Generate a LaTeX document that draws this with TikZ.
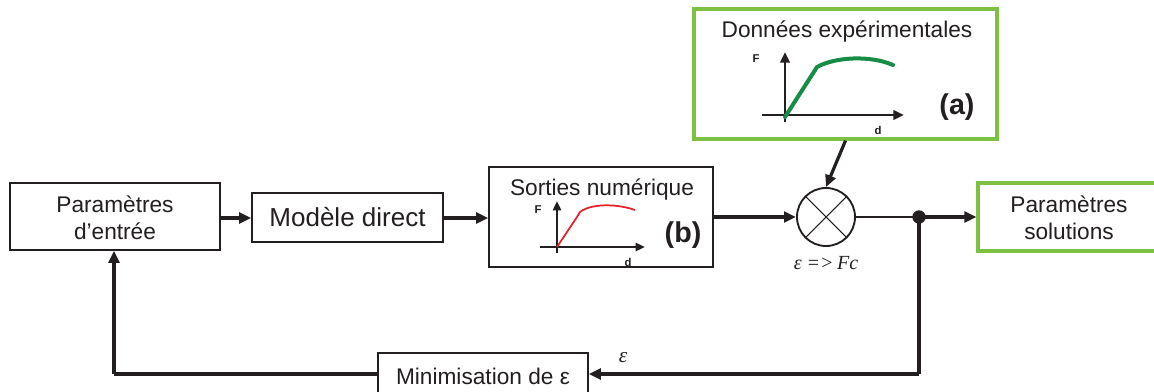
\documentclass[tikz,border=0pt]{standalone}
\usepackage{fontspec}
\setmainfont{Liberation Sans}
\newfontfamily\serifit{Liberation Serif}
\usetikzlibrary{arrows.meta}
\definecolor{boxgreen}{RGB}{125,193,66}
\definecolor{curvegreen}{RGB}{22,140,70}
\definecolor{curvered}{RGB}{232,30,40}
\definecolor{ink}{RGB}{35,31,32}
\begin{document}
\begin{tikzpicture}[x=0.75pt,y=-0.75pt,
  blk/.style={draw=ink,line width=1.2pt,fill=white,inner sep=0pt,align=center,text=ink},
  gblk/.style={draw=boxgreen,line width=2.4pt,fill=white,inner sep=0pt,align=center,text=ink},
  conn/.style={draw=ink,line width=2.4pt,-{Triangle[length=9pt,width=8pt]}},
  line/.style={draw=ink,line width=2.4pt},
  thin/.style={draw=ink,line width=1pt},
  axis/.style={draw=ink,line width=2.2pt,-{Triangle[length=8pt,width=7pt]}},
  txt/.style={font=\fontsize{17}{20.5}\selectfont,text=ink,inner sep=0pt,align=center},
  small/.style={font=\fontsize{8.5}{10}\selectfont\bfseries,text=ink,inner sep=0pt},
  lbl/.style={font=\fontsize{21.5}{24}\selectfont\bfseries,text=ink,inner sep=0pt},
  eps/.style={font=\serifit\itshape\fontsize{15}{17}\selectfont,text=ink,inner sep=0pt}]
\useasboundingbox (0,0) rectangle (1154,392);
\clip (0,0) rectangle (1154,392);

% blocks
\node[blk,minimum width=157.5pt,minimum height=50.25pt] (pe) at (115,216.5) {};
\node[txt] (pet) at (115,218) {Paramètres\\d’entrée};
\node[blk,minimum width=143.25pt,minimum height=36.75pt,font=\fontsize{19.5}{22}\selectfont] (md) at (347.5,217.5) {Modèle direct};
\node[blk,minimum width=168pt,minimum height=75pt] (sn) at (601,217) {};
\node[txt] (snt) at (602,190) {Sorties numérique};
\node[gblk,minimum width=227.25pt,minimum height=97.5pt] (de) at (845.5,74) {};
\node[txt] (det) at (847,32) {Données expérimentales};
\node[gblk,minimum width=136.5pt,minimum height=51pt] (ps) at (1069,217) {};
\node[txt] (pst) at (1069,218) {Paramètres\\solutions};
\node[blk,minimum width=157.5pt,minimum height=35.25pt] (mn) at (483,376.5) {};
\node[txt] (mnt) at (483,376) {Minimisation de ε};

% comparator
\node[draw=ink,line width=1.4pt,circle,minimum size=43.5pt,inner sep=0pt,fill=white] (x) at (826,217) {};
\draw[ink,line width=0.8pt] (x.north west) -- (x.south east) (x.north east) -- (x.south west);
\node[eps] (xl) at (826,263) {ε =>\,Fc};

% junction
\coordinate (j) at (919,217);
\coordinate (c1) at (919,374);
\coordinate (c2) at (114,374);

% connectors
\draw[conn] (pe.east |- 0,218) -- (md.west |- 0,218);
\draw[conn] (md.east |- 0,218) -- (sn.west |- 0,218);
\draw[conn] (sn.east) -- (x.west);
\draw[conn] (de.south) -- (x.north);
\draw[thin] (x.east) -- (j);
\draw[conn] (j) -- (j -| ps.west);
\draw[line] (j) -- (c1);
\draw[conn] (c1) -- (c1 -| mn.east);
\draw[line] (c1 -| mn.west) -- (c2);
\draw[conn] (c2) -- (c2 |- pe.south);
\fill[ink] (j) circle (5pt);
\node[eps,font=\serifit\itshape\fontsize{16}{18}\selectfont] (el) at (623,358) {ε};

% plot (a)
\draw[axis] (785,122) -- (785,52);
\draw[axis] (762,115) -- (904,115);
\draw[curvegreen,line width=3pt,line cap=round] (785,117) -- (817,67) .. controls (835,57) and (870,55) .. (893,65);
\node[small] (fa) at (756,59) {F};
\node[small] (da) at (878,130) {d};
\node[lbl] (la) at (957,107) {(a)};

% plot (b)
\draw[axis,line width=1.9pt,-{Triangle[length=7pt,width=6pt]}] (557,253) -- (557,201);
\draw[axis,line width=1.9pt,-{Triangle[length=7pt,width=6pt]}] (540,247) -- (645,247);
\draw[curvered,line width=1.3pt] (557,247) -- (577,217) -- (580,212) .. controls (590,204) and (615,203) .. (635,210);
\node[small] (fb) at (538,210) {F};
\node[small] (db) at (628,262) {d};
\node[lbl] (lb) at (683,235) {(b)};
\end{tikzpicture}
\end{document}
